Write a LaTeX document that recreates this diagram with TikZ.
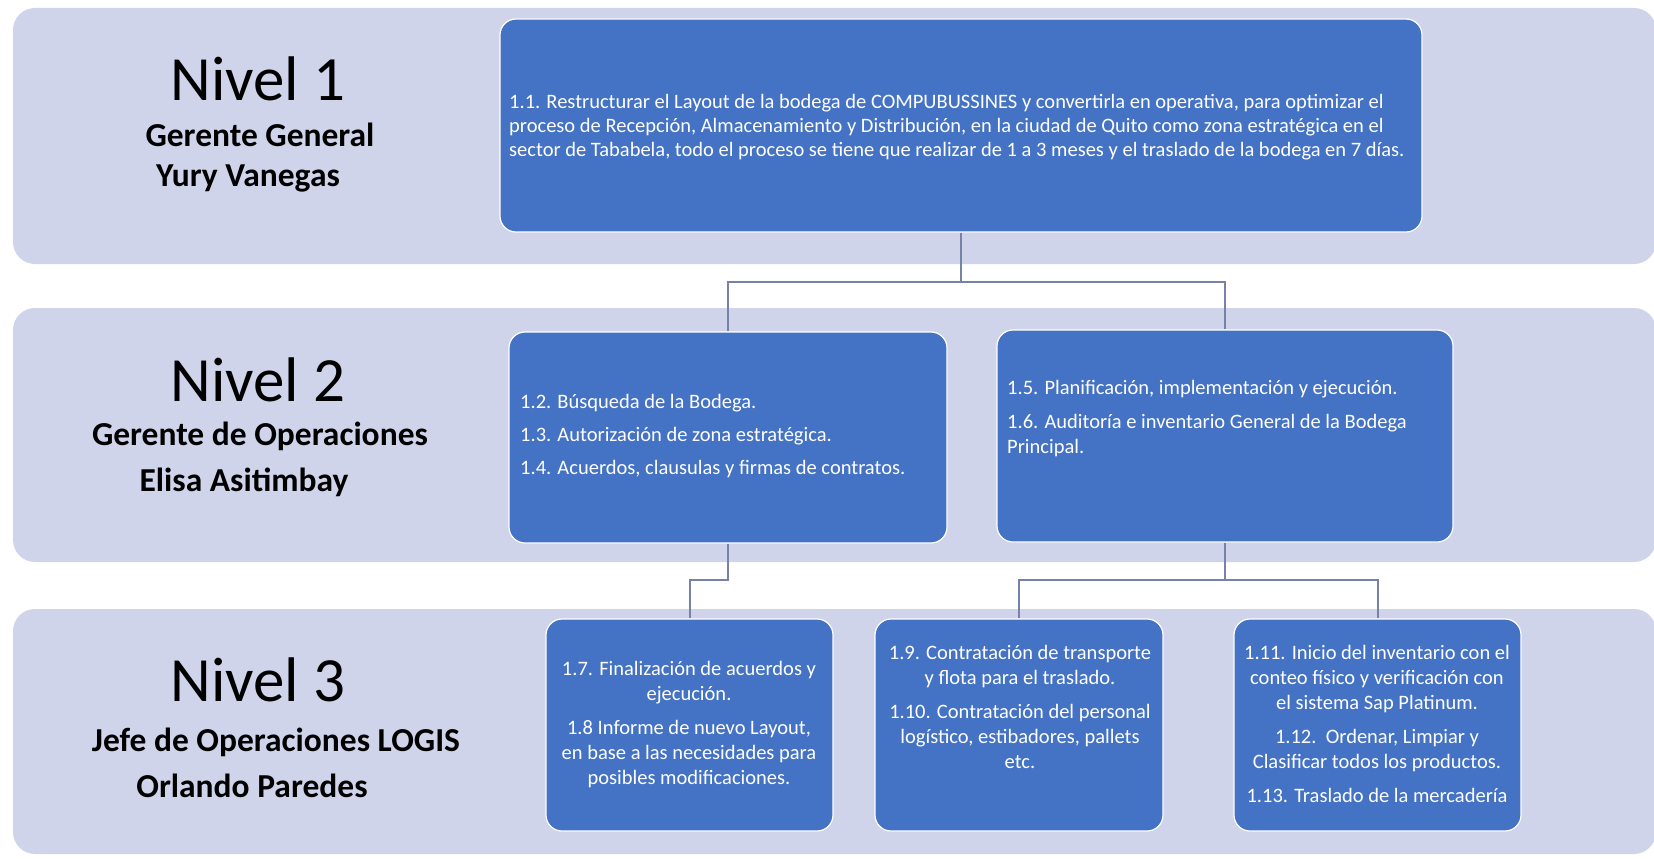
\documentclass[tikz,border=0pt]{standalone}
\usepackage{fontspec}
\setmainfont{Carlito}
\usetikzlibrary{positioning}
\definecolor{bandafondo}{RGB}{208,212,234}
\definecolor{azulcaja}{RGB}{68,114,196}
\definecolor{lineagris}{RGB}{118,130,168}

\begin{document}
\begin{tikzpicture}[x=1pt, y=-1pt,
    banda/.style={fill=bandafondo, rounded corners=22pt},
    caja/.style={fill=azulcaja, draw=white, line width=1.2pt, rounded corners=16pt},
    texto/.style={text=white, font=\fontsize{20.5}{25}\selectfont, inner sep=0pt},
    nivel/.style={font=\fontsize{63}{70}\selectfont, inner sep=0pt},
    cargo/.style={font=\fontsize{33.5}{40}\selectfont\bfseries, inner sep=0pt},
    enlace/.style={draw=lineagris, line width=2pt}]
    \useasboundingbox (0,0) rectangle (1654,859);
    \clip (0,0) rectangle (1654,859);
    % bandas de nivel
    \fill[banda] (13,8) rectangle (1656,264);
    \fill[banda] (13,308) rectangle (1656,562);
    \fill[banda] (13,609) rectangle (1656,854);

    % etiquetas
    \node[nivel] (n1) at (258,79) {Nivel 1};
    \node[cargo] (c1) at (260,135) {Gerente General};
    \node[cargo] (p1) at (248,178) {Yury Vanegas};
    \node[nivel] (n2) at (258,380) {Nivel 2};
    \node[cargo] (c2) at (260,436) {Gerente de Operaciones};
    \node[cargo] (p2) at (244,482) {Elisa Asitimbay};
    \node[nivel] (n3) at (258,680) {Nivel 3};
    \node[cargo] (c3) at (276,742) {Jefe de Operaciones LOGIS};
    \node[cargo] (p3) at (252,786) {Orlando Paredes};

    % cajas
    \node[caja, minimum width=922pt, minimum height=213pt] (b11) at (961,125.5) {};
    \node[caja, minimum width=438pt, minimum height=211pt] (b12) at (728,437.5) {};
    \node[caja, minimum width=456pt, minimum height=212pt] (b15) at (1225,436) {};
    \node[caja, minimum width=287pt, minimum height=212pt] (b17) at (689.5,725) {};
    \node[caja, minimum width=288pt, minimum height=212pt] (b19) at (1019,725) {};
    \node[caja, minimum width=287pt, minimum height=212pt] (b111) at (1377.5,725) {};

    % textos
    \node[texto, font=\fontsize{20.5}{24}\selectfont, anchor=west, align=left] (t11) at (509,127) {1.1. Restructurar el Layout de la bodega de COMPUBUSSINES y convertirla en operativa, para optimizar el\\
      proceso de Recepción, Almacenamiento y Distribución, en la ciudad de Quito como zona estratégica en el\\
      sector de Tababela, todo el proceso se tiene que realizar de 1 a 3 meses y el traslado de la bodega en 7 días.};
    \node[texto, anchor=west, align=left] (t12) at (520,436) {1.2. Búsqueda de la Bodega.\\[8pt]
      1.3. Autorización de zona estratégica.\\[8pt]
      1.4. Acuerdos, clausulas y firmas de contratos.};
    \node[texto, anchor=west, align=left] (t15) at (1007,419) {1.5. Planificación, implementación y ejecución.\\[9pt]
      1.6. Auditoría e inventario General de la Bodega\\
      Principal.};
    \node[texto, align=center] (t17) at (689,725) {1.7. Finalización de acuerdos y\\
      ejecución.\\[9pt]
      1.8 Informe de nuevo Layout,\\
      en base a las necesidades para\\
      posibles modificaciones.};
    \node[texto, align=center] (t19) at (1020,707) {1.9. Contratación de transporte\\
      y flota para el traslado.\\[9pt]
      1.10. Contratación del personal\\
      logístico, estibadores, pallets\\
      etc.};
    \node[texto, align=center] (t111) at (1377,724) {1.11. Inicio del inventario con el\\
      conteo físico y verificación con\\
      el sistema Sap Platinum.\\[9pt]
      1.12.\ \ Ordenar, Limpiar y\\
      Clasificar todos los productos.\\[9pt]
      1.13. Traslado de la mercadería};

    % conectores
    \coordinate (u1) at (961,282);
    \draw[enlace] (b11.south) -- (u1) -| (b12.north);
    \draw[enlace] (u1) -| (b15.north);
    \coordinate (u2) at (728,580);
    \draw[enlace] (b12.south) -- (u2) -| (b17.north);
    \coordinate (u3) at (1225,580);
    \draw[enlace] (b15.south) -- (u3) -| (b19.north);
    \draw[enlace] (u3) -| (b111.north);
\end{tikzpicture}
\end{document}
